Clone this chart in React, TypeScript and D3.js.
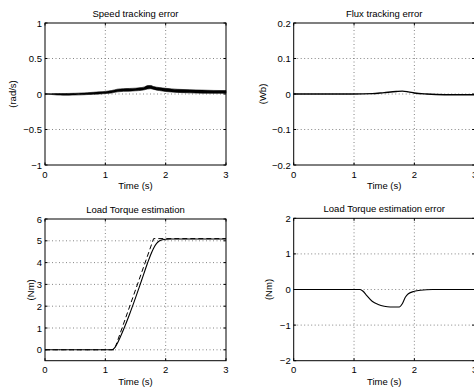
import { useRef, useEffect } from "react";
import * as d3 from "d3";

// x axis shared by all four panels
const xTicks = [0, 1, 2, 3];

// speed tracking error: noisy trace kept as an envelope
const speedTime = [0, 0.1, 0.2, 0.3, 0.4, 0.5, 0.6, 0.7, 0.8, 0.9, 1.0, 1.1, 1.2, 1.3, 1.4, 1.5, 1.6, 1.65, 1.7, 1.75, 1.8, 1.9, 2.0, 2.1, 2.2, 2.4, 2.6, 2.8, 3.0];
const speedUpper = [0.003, 0.004, 0.006, 0.006, 0.008, 0.01, 0.014, 0.018, 0.024, 0.03, 0.036, 0.048, 0.068, 0.075, 0.078, 0.082, 0.09, 0.1, 0.118, 0.12, 0.105, 0.09, 0.08, 0.072, 0.066, 0.06, 0.055, 0.05, 0.048];
const speedLower = [-0.003, -0.006, -0.014, -0.016, -0.016, -0.014, -0.012, -0.008, -0.004, 0, 0.006, 0.014, 0.03, 0.038, 0.04, 0.045, 0.052, 0.06, 0.07, 0.075, 0.065, 0.048, 0.035, 0.028, 0.022, 0.016, 0.012, 0.01, 0.01];

// flux tracking error
const fluxTime = [0, 0.5, 1.0, 1.3, 1.5, 1.7, 1.8, 1.9, 2.0, 2.2, 2.5, 3.0];
const fluxErr = [0, 0, 0, 0.001, 0.004, 0.007, 0.008, 0.006, 0.003, 0, -0.002, -0.002];

// load torque: reference (dashed) and estimate (solid)
const torqueRefTime = [0, 1.15, 1.8, 3.0];
const torqueRef = [0, 0, 5.1, 5.1];
const torqueTime = [0, 1.1, 1.15, 1.2, 1.25, 1.3, 1.4, 1.5, 1.6, 1.7, 1.75, 1.8, 1.85, 1.9, 1.95, 2.0, 2.1, 2.2, 3.0];
const torqueEst = [0, 0, 0.08, 0.3, 0.6, 0.92, 1.62, 2.38, 3.18, 3.98, 4.35, 4.66, 4.88, 5.0, 5.05, 5.07, 5.08, 5.08, 5.08];

// load torque estimation error
const errTime = [0, 1.1, 1.15, 1.2, 1.3, 1.4, 1.5, 1.6, 1.75, 1.8, 1.85, 1.9, 2.0, 2.1, 2.3, 3.0];
const errVal = [0, 0, -0.05, -0.15, -0.33, -0.42, -0.47, -0.49, -0.49, -0.4, -0.22, -0.12, -0.05, -0.02, 0, 0];

const fmt = (v: number) => (v < 0 ? "\u2212" + String(-v) : String(v));

interface Panel {
  title: string;
  ylabel: string;
  box: [number, number, number, number]; // x0, x1, y0, y1
  yDomain: [number, number];
  yTicks: number[];
  ylabelX: number;
}

const panels: Panel[] = [
  { title: "Speed tracking error", ylabel: "(rad/s)", box: [45, 226, 23, 165], yDomain: [-1, 1], yTicks: [-1, -0.5, 0, 0.5, 1], ylabelX: 12 },
  { title: "Flux tracking error", ylabel: "(Wb)", box: [293.7, 474.7, 23, 165], yDomain: [-0.2, 0.2], yTicks: [-0.2, -0.1, 0, 0.1, 0.2], ylabelX: 262 },
  { title: "Load Torque estimation", ylabel: "(Nm)", box: [45, 226, 219, 360.7], yDomain: [-0.5, 6], yTicks: [0, 1, 2, 3, 4, 5, 6], ylabelX: 30 },
  { title: "Load Torque estimation error", ylabel: "(Nm)", box: [293.7, 474.7, 218.3, 360.7], yDomain: [-2, 2], yTicks: [-2, -1, 0, 1, 2], ylabelX: 268.5 },
];

const font = "'Liberation Sans', Arial, sans-serif";

export default function App() {
  const svgRef = useRef<SVGSVGElement>(null);

  useEffect(() => {
    if (!svgRef.current) return;
    const svg = d3.select(svgRef.current);
    svg.selectAll("*").remove();
    svg.append("rect").attr("width", 474).attr("height", 387).attr("fill", "#fff");

    panels.forEach((p, idx) => {
      const [x0, x1, y0, y1] = p.box;
      const x = d3.scaleLinear().domain([0, 3]).range([x0, x1]);
      const y = d3.scaleLinear().domain(p.yDomain).range([y1, y0]);
      const g = svg.append("g");

      // grid
      g.selectAll(".gx")
        .data(xTicks.filter((t) => t > 0 && t < 3))
        .join("line")
        .attr("x1", (d) => x(d)).attr("x2", (d) => x(d))
        .attr("y1", y0).attr("y2", y1)
        .attr("stroke", "#666").attr("stroke-width", 0.8)
        .attr("stroke-dasharray", "1,2.5");
      g.selectAll(".gy")
        .data(p.yTicks.filter((t) => t > p.yDomain[0] && t < p.yDomain[1]))
        .join("line")
        .attr("x1", x0).attr("x2", x1)
        .attr("y1", (d) => y(d)).attr("y2", (d) => y(d))
        .attr("stroke", "#666").attr("stroke-width", 0.8)
        .attr("stroke-dasharray", "1,2.5");

      // data
      if (idx === 0) {
        const area = d3.area<number>()
          .x((_, i) => x(speedTime[i]))
          .y0((_, i) => y(speedLower[i]))
          .y1((_, i) => y(speedUpper[i]))
          .curve(d3.curveMonotoneX);
        g.append("path").attr("d", area(speedUpper)!).attr("fill", "#000")
          .attr("stroke", "#000").attr("stroke-width", 0.6);
      } else if (idx === 1) {
        const line = d3.line<number>().x((_, i) => x(fluxTime[i])).y((d) => y(d)).curve(d3.curveMonotoneX);
        g.append("path").attr("d", line(fluxErr)!).attr("fill", "none")
          .attr("stroke", "#000").attr("stroke-width", 1.4);
      } else if (idx === 2) {
        const ref = d3.line<number>().x((_, i) => x(torqueRefTime[i])).y((d) => y(d));
        g.append("path").attr("d", ref(torqueRef)!).attr("fill", "none")
          .attr("stroke", "#000").attr("stroke-width", 1).attr("stroke-dasharray", "5,3");
        const est = d3.line<number>().x((_, i) => x(torqueTime[i])).y((d) => y(d)).curve(d3.curveMonotoneX);
        g.append("path").attr("d", est(torqueEst)!).attr("fill", "none")
          .attr("stroke", "#000").attr("stroke-width", 1.1);
      } else {
        const line = d3.line<number>().x((_, i) => x(errTime[i])).y((d) => y(d)).curve(d3.curveMonotoneX);
        g.append("path").attr("d", line(errVal)!).attr("fill", "none")
          .attr("stroke", "#000").attr("stroke-width", 1.1);
      }

      // box
      g.append("rect")
        .attr("x", x0).attr("y", y0)
        .attr("width", x1 - x0).attr("height", y1 - y0)
        .attr("fill", "none").attr("stroke", "#000").attr("stroke-width", 1);

      // inward ticks on all sides
      const tl = 2.5;
      xTicks.forEach((t) => {
        g.append("line").attr("x1", x(t)).attr("x2", x(t)).attr("y1", y1).attr("y2", y1 - tl).attr("stroke", "#000");
        g.append("line").attr("x1", x(t)).attr("x2", x(t)).attr("y1", y0).attr("y2", y0 + tl).attr("stroke", "#000");
      });
      p.yTicks.forEach((t) => {
        g.append("line").attr("x1", x0).attr("x2", x0 + tl).attr("y1", y(t)).attr("y2", y(t)).attr("stroke", "#000");
        g.append("line").attr("x1", x1).attr("x2", x1 - tl).attr("y1", y(t)).attr("y2", y(t)).attr("stroke", "#000");
      });

      // tick labels
      g.selectAll(".xl")
        .data(xTicks)
        .join("text")
        .attr("x", (d) => x(d)).attr("y", y1 + 9)
        .attr("text-anchor", "middle").attr("dominant-baseline", "central")
        .attr("font-family", font).attr("font-size", 9.5)
        .text((d) => fmt(d));
      g.selectAll(".yl")
        .data(p.yTicks)
        .join("text")
        .attr("x", x0 - 3).attr("y", (d) => y(d))
        .attr("text-anchor", "end").attr("dominant-baseline", "central")
        .attr("font-family", font).attr("font-size", 9.5)
        .text((d) => fmt(d));

      // labels
      g.append("text")
        .attr("x", (x0 + x1) / 2).attr("y", y0 - 10)
        .attr("text-anchor", "middle").attr("dominant-baseline", "central")
        .attr("font-family", font).attr("font-size", 9.5)
        .text(p.title);
      g.append("text")
        .attr("x", (x0 + x1) / 2).attr("y", y1 + 20.5)
        .attr("text-anchor", "middle").attr("dominant-baseline", "central")
        .attr("font-family", font).attr("font-size", 9.5)
        .text("Time (s)");
      g.append("text")
        .attr("transform", `translate(${p.ylabelX},${(y0 + y1) / 2}) rotate(-90)`)
        .attr("text-anchor", "middle").attr("dominant-baseline", "central")
        .attr("font-family", font).attr("font-size", 9.5)
        .text(p.ylabel);
    });
  }, []);

  return (
    <svg
      ref={svgRef}
      width={474}
      height={387}
      style={{ position: "absolute", left: 0, top: 0, display: "block" }}
    />
  );
}
